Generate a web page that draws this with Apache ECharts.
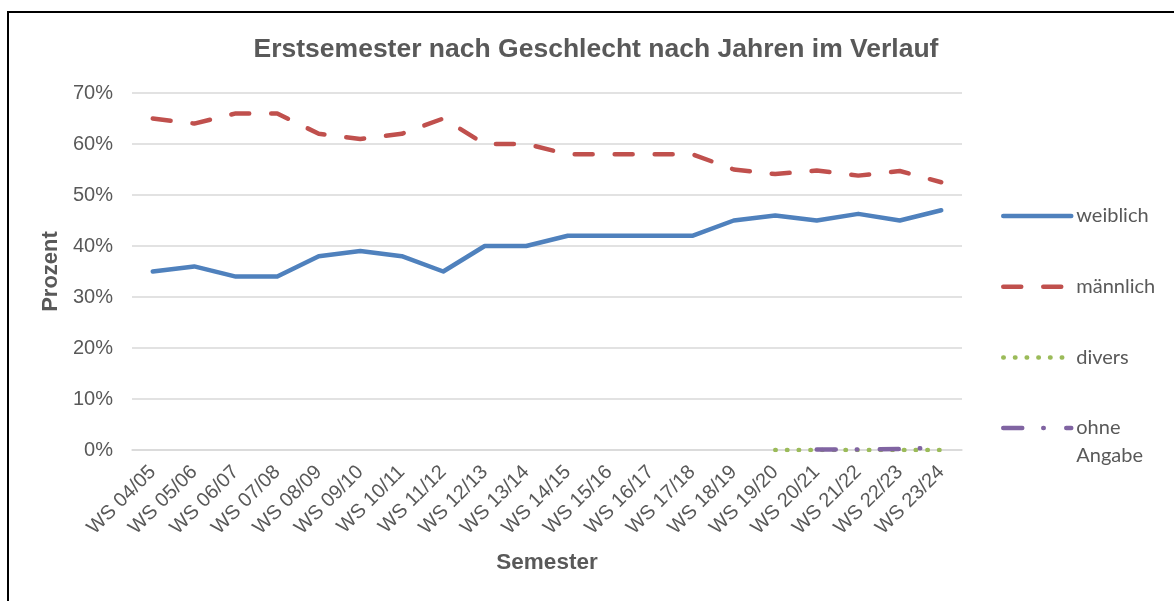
<!DOCTYPE html>
<html>
<head>
<meta charset="utf-8">
<script src="https://cdn.jsdelivr.net/npm/echarts@6/dist/echarts.min.js"></script>
<style>html,body{margin:0;padding:0;background:#fff}#c{width:1174px;height:601px}</style>
</head>
<body>
<div id="c"></div>
<script>
const categories = ['WS 04/05','WS 05/06','WS 06/07','WS 07/08','WS 08/09','WS 09/10','WS 10/11','WS 11/12','WS 12/13','WS 13/14','WS 14/15','WS 15/16','WS 16/17','WS 17/18','WS 18/19','WS 19/20','WS 20/21','WS 21/22','WS 22/23','WS 23/24'];
const weiblich = [35,36,34,34,38,39,38,35,40,40,42,42,42,42,45,46,45,46.3,45,47];
const maennlich = [65,64,66,66,62,61,62,65,60,60,58,58,58,58,55,54.1,54.8,53.8,54.7,52.5];
const divers = [null,null,null,null,null,null,null,null,null,null,null,null,null,null,null,0,0,0,0,0];
const ohneAngabe = [null,null,null,null,null,null,null,null,null,null,null,null,null,null,null,null,0.1,0.1,0.2,0.5];
const yTicks = {min:0, max:70, interval:10};

const chart = echarts.init(document.getElementById('c'), null, {renderer:'canvas'});
const grey = '#595959';
const legendCommon = {
  orient:'vertical', left:1001, padding:0, itemWidth:68, itemHeight:14,
  itemStyle:{opacity:0},
  lineStyle:{width:4.5, cap:'round'},
  textStyle:{fontFamily:'Lato', fontSize:20, color:grey, lineHeight:26}
};
chart.setOption({
  animation:false,
  backgroundColor:'#fff',
  title:{
    text:'Erstsemester nach Geschlecht nach Jahren im Verlauf',
    left:591, top:31, textAlign:'center',
    textStyle:{fontFamily:'Liberation Sans', fontWeight:'bold', fontSize:26.5, color:grey}
  },
  graphic:[{type:'rect', shape:{x:8,y:12,width:1300,height:800}, style:{fill:'none', stroke:'#000', lineWidth:2}, z:100}],
  grid:{left:132, right:212, top:93, bottom:151, containLabel:false},
  legend:[
    Object.assign({}, legendCommon, {top:203, itemGap:44.7, data:['weiblich','männlich','divers']}),
    Object.assign({}, legendCommon, {top:386, data:['ohne Angabe'],
      formatter: n => '\nohne\nAngabe',
      textStyle:{fontFamily:'Lato', fontSize:20, color:grey, lineHeight:28}})
  ],
  xAxis:{
    type:'category', data:categories, boundaryGap:true,
    name:'Semester', nameLocation:'middle', nameGap:101,
    nameTextStyle:{fontFamily:'Liberation Sans', fontWeight:'bold', fontSize:22.5, color:grey},
    axisLine:{show:true, lineStyle:{color:'#d9d9d9', width:1.5}},
    axisTick:{show:false},
    axisLabel:{rotate:45, margin:19, interval:0, fontFamily:'Liberation Sans', fontSize:20, color:grey}
  },
  yAxis:{
    type:'value', min:yTicks.min, max:yTicks.max, interval:yTicks.interval,
    name:'Prozent', nameLocation:'middle', nameGap:68,
    nameTextStyle:{fontFamily:'Liberation Sans', fontWeight:'bold', fontSize:22, color:grey},
    axisLine:{show:false}, axisTick:{show:false},
    axisLabel:{formatter:'{value}%', margin:19, fontFamily:'Liberation Sans', fontSize:20, color:grey},
    splitLine:{lineStyle:{color:'#d9d9d9', width:1.5}}
  },
  series:[
    {name:'weiblich', type:'line', data:weiblich, symbol:'none', color:'#4F81BD',
     lineStyle:{width:4.5, color:'#4F81BD', join:'round', cap:'round'}},
    {name:'männlich', type:'line', data:maennlich, symbol:'none', color:'#C0504D',
     lineStyle:{width:4.5, color:'#C0504D', type:[18,22], join:'round', cap:'round'}},
    {name:'divers', type:'line', data:divers, symbol:'none', color:'#9BBB59',
     lineStyle:{width:4.5, color:'#9BBB59', type:[0.5,11.2], cap:'round'}},
    {name:'ohne Angabe', type:'line', data:ohneAngabe, symbol:'none', color:'#8064A2',
     lineStyle:{width:4.5, color:'#8064A2', type:[19,21,0.5,22.5], cap:'round'}}
  ]
});
</script>
</body>
</html>
